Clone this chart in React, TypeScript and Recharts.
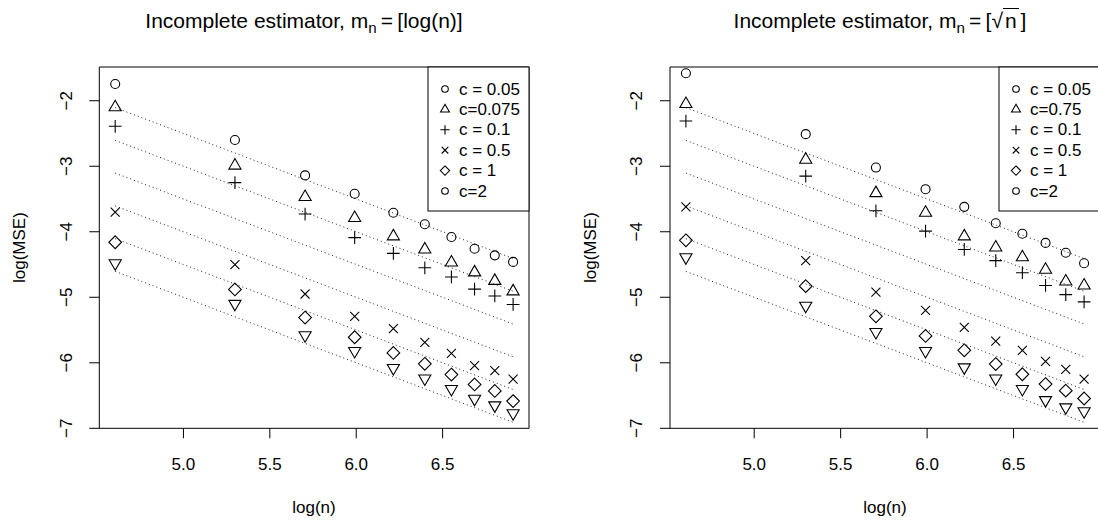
import React from 'react';
import { ScatterChart, Scatter, XAxis, YAxis, ReferenceLine, ReferenceArea } from 'recharts';

// x positions: log(n), n = 100, 200, ..., 1000
const logN = [4.605, 5.298, 5.704, 5.991, 6.215, 6.397, 6.551, 6.685, 6.802, 6.908];

// left panel, m_n = [log(n)]
const logC005 = [-1.745, -2.6, -3.14, -3.42, -3.71, -3.885, -4.08, -4.26, -4.36, -4.46];
const logC0075 = [-2.1, -2.99, -3.47, -3.79, -4.07, -4.27, -4.47, -4.62, -4.75, -4.91];
const logC01 = [-2.39, -3.25, -3.73, -4.09, -4.33, -4.55, -4.69, -4.875, -4.98, -5.11];
const logC05 = [-3.7, -4.5, -4.95, -5.29, -5.48, -5.69, -5.855, -6.045, -6.12, -6.25];
const logC1 = [-4.16, -4.88, -5.31, -5.61, -5.85, -6.015, -6.18, -6.33, -6.43, -6.585];
const logC2 = [-4.48, -5.1, -5.58, -5.82, -6.08, -6.24, -6.4, -6.55, -6.65, -6.77];

// right panel, m_n = [sqrt(n)]
const sqC005 = [-1.58, -2.51, -3.02, -3.35, -3.62, -3.87, -4.03, -4.17, -4.32, -4.48];
const sqC075 = [-2.05, -2.9, -3.41, -3.71, -4.07, -4.24, -4.39, -4.58, -4.76, -4.82];
const sqC01 = [-2.31, -3.15, -3.68, -3.99, -4.27, -4.44, -4.625, -4.82, -4.96, -5.07];
const sqC05 = [-3.62, -4.44, -4.92, -5.2, -5.46, -5.67, -5.81, -5.98, -6.1, -6.25];
const sqC1 = [-4.13, -4.83, -5.29, -5.59, -5.81, -6.02, -6.175, -6.325, -6.425, -6.545];
const sqC2 = [-4.39, -5.13, -5.53, -5.82, -6.07, -6.24, -6.4, -6.57, -6.68, -6.74];

// dotted guide lines (slope -1), from log(100) to log(1000)
const guideStart = [-2.105, -2.605, -3.105, -3.605, -4.105, -4.605];
const guideEnd = [-4.408, -4.908, -5.408, -5.908, -6.408, -6.908];

const xTicks = [5, 5.5, 6, 6.5];
const yTicks = [-7, -6, -5, -4, -3, -2];

const leftLabels = ['c = 0.05', 'c=0.075', 'c = 0.1', 'c = 0.5', 'c = 1', 'c=2'];
const rightLabels = ['c = 0.05', 'c=0.75', 'c = 0.1', 'c = 0.5', 'c = 1', 'c=2'];

type Kind = 'circle' | 'up' | 'plus' | 'cross' | 'diamond' | 'down';
const plotKinds: Kind[] = ['circle', 'up', 'plus', 'cross', 'diamond', 'down'];
const legendKinds: Kind[] = ['circle', 'up', 'plus', 'cross', 'diamond', 'circle'];

const FONT = '"Liberation Sans", Arial, Helvetica, sans-serif';

const Glyph = ({ kind, cx, cy, s }: { kind: Kind; cx: number; cy: number; s: number }) => {
  const st = { fill: 'none', stroke: '#000', strokeWidth: 1.1 };
  const r = 1.555 * s;
  const h = r * 0.866;
  const a = 1.414 * s;
  switch (kind) {
    case 'circle':
      return <circle cx={cx} cy={cy} r={s} {...st} />;
    case 'up':
      return <polygon points={`${cx},${cy - r} ${cx + h},${cy + r / 2} ${cx - h},${cy + r / 2}`} {...st} />;
    case 'down':
      return <polygon points={`${cx},${cy + r} ${cx + h},${cy - r / 2} ${cx - h},${cy - r / 2}`} {...st} />;
    case 'plus':
      return <path d={`M${cx - a},${cy}H${cx + a}M${cx},${cy - a}V${cy + a}`} {...st} />;
    case 'cross':
      return <path d={`M${cx - s},${cy - s}L${cx + s},${cy + s}M${cx - s},${cy + s}L${cx + s},${cy - s}`} {...st} />;
    case 'diamond':
      return <polygon points={`${cx},${cy - a} ${cx + a},${cy} ${cx},${cy + a} ${cx - a},${cy}`} {...st} />;
  }
  return null;
};

const XTick = (props: any) => {
  const { x, y, payload } = props;
  return (
    <text x={x} y={y} textAnchor="middle" dominantBaseline="central" fontFamily={FONT} fontSize={17} fill="#000">
      {Number(payload.value).toFixed(1)}
    </text>
  );
};

const YTick = (props: any) => {
  const { x, y, payload } = props;
  const v = Number(payload.value);
  return (
    <text x={x} y={y} transform={`rotate(-90, ${x}, ${y})`} textAnchor="middle" dominantBaseline="central"
      fontFamily={FONT} fontSize={17} fill="#000">
      {v < 0 ? `\u2212${Math.abs(v)}` : String(v)}
    </text>
  );
};

interface PanelProps {
  series: number[][];
  width: number;
  margin: { top: number; right: number; bottom: number; left: number };
}

const Panel = ({ series, width, margin }: PanelProps) => (
  <ScatterChart width={width} height={520} margin={margin}>
    <XAxis type="number" dataKey="x" domain={[4.513, 7.0]} ticks={xTicks} allowDataOverflow
      axisLine={false} tickSize={10} tickMargin={26} height={50} tick={<XTick />}
      tickLine={{ stroke: '#000' }} interval={0} />
    <YAxis type="number" dataKey="y" domain={[-7, -1.485]} ticks={yTicks} allowDataOverflow
      axisLine={false} tickSize={10} tickMargin={23} width={60} tick={<YTick />}
      tickLine={{ stroke: '#000' }} interval={0} />
    <ReferenceArea x1={4.513} x2={7.0} y1={-7} y2={-1.485} fill="none" fillOpacity={0} stroke="#000" strokeWidth={1} />
    {guideStart.map((y0, i) => (
      <ReferenceLine key={i} segment={[{ x: logN[0], y: y0 }, { x: logN[logN.length - 1], y: guideEnd[i] }]}
        stroke="#222" strokeWidth={1} strokeDasharray="1 3" />
    ))}
    {series.map((vals, k) => (
      <Scatter key={k} data={logN.map((x, i) => ({ x, y: vals[i] }))} isAnimationActive={false}
        shape={(p: any) => <Glyph kind={plotKinds[k]} cx={p.cx} cy={p.cy} s={4.5} />} />
    ))}
  </ScatterChart>
);

const LegendBox = ({ left, labels }: { left: number; labels: string[] }) => (
  <g>
    <rect x={left} y={67} width={101} height={144} fill="#fff" stroke="#000" strokeWidth={1} />
    {labels.map((t, i) => {
      const y = 89 + 20.4 * i;
      return (
        <g key={i}>
          <Glyph kind={legendKinds[i]} cx={left + 17} cy={y} s={3.3} />
          <text x={left + 31} y={y} dominantBaseline="central" fontFamily={FONT} fontSize={17} fill="#000">{t}</text>
        </g>
      );
    })}
  </g>
);

const titleStyle: React.CSSProperties = {
  position: 'absolute', top: 9, width: 430, textAlign: 'center', fontFamily: FONT,
  fontSize: 21, lineHeight: '24px', color: '#000', whiteSpace: 'nowrap',
};
const subStyle: React.CSSProperties = { fontSize: '72%', verticalAlign: '-0.3em' };
const eqStyle: React.CSSProperties = { margin: '0 0.2em' };

export default function App() {
  return (
    <div style={{ position: 'absolute', left: 0, top: 0, width: 1098, height: 520, overflow: 'hidden', background: '#fff' }}>
      <div style={{ position: 'absolute', left: 0, top: 0 }}>
        <Panel series={[logC005, logC0075, logC01, logC05, logC1, logC2]} width={549}
          margin={{ top: 67, right: 20, bottom: 41.7, left: 39.3 }} />
      </div>
      <div style={{ position: 'absolute', left: 549, top: 0 }}>
        <Panel series={[sqC005, sqC075, sqC01, sqC05, sqC1, sqC2]} width={580}
          margin={{ top: 67, right: 29, bottom: 41.7, left: 61 }} />
      </div>
      <svg width={1098} height={520} style={{ position: 'absolute', left: 0, top: 0, pointerEvents: 'none' }}>
        <LegendBox left={428} labels={leftLabels} />
        <LegendBox left={999} labels={rightLabels} />
        <text x={314} y={507} textAnchor="middle" dominantBaseline="central" fontFamily={FONT} fontSize={17}>log(n)</text>
        <text x={885} y={507} textAnchor="middle" dominantBaseline="central" fontFamily={FONT} fontSize={17}>log(n)</text>
        <text x={20} y={247.6} transform="rotate(-90, 20, 247.6)" textAnchor="middle" dominantBaseline="central"
          fontFamily={FONT} fontSize={17}>log(MSE)</text>
        <text x={591} y={247.6} transform="rotate(-90, 591, 247.6)" textAnchor="middle" dominantBaseline="central"
          fontFamily={FONT} fontSize={17}>log(MSE)</text>
      </svg>
      <div style={{ ...titleStyle, left: 89 }}>
        Incomplete estimator, m<span style={subStyle}>n</span><span style={eqStyle}>=</span>[log(n)]
      </div>
      <div style={{ ...titleStyle, left: 665 }}>
        Incomplete estimator, m<span style={subStyle}>n</span><span style={eqStyle}>=</span>[{'\u221A'}<span
          style={{ borderTop: '1px solid #000', padding: '0 2px' }}>n</span><span style={{ marginLeft: 2 }}>]</span>
      </div>
    </div>
  );
}
